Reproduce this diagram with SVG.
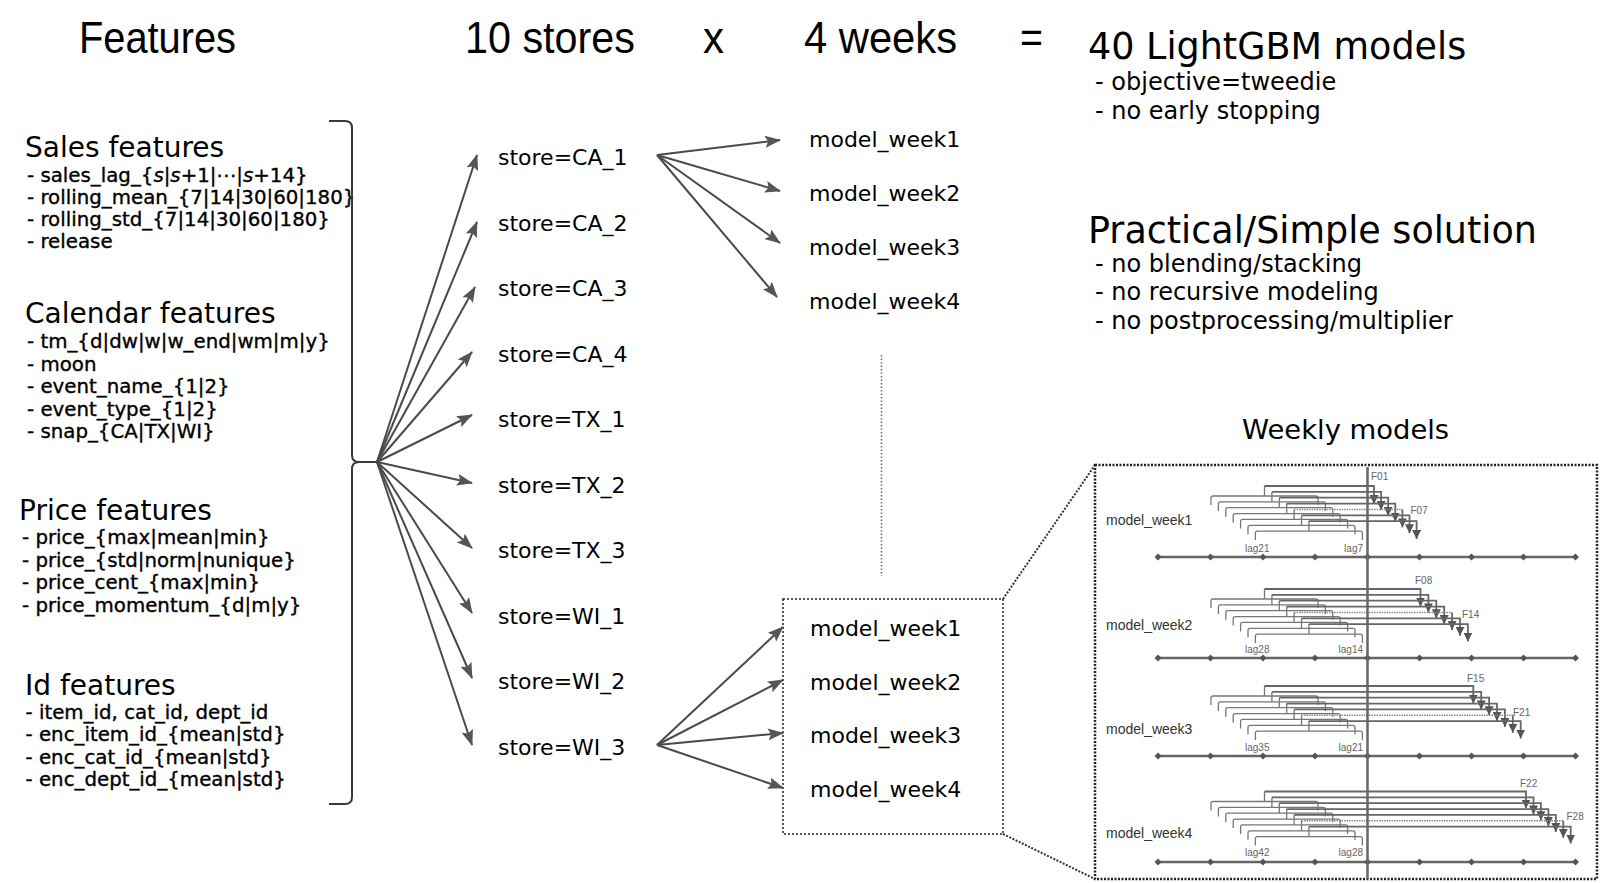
<svg xmlns="http://www.w3.org/2000/svg" width="1600" height="883" viewBox="0 0 1600 883">
<defs>
<style>
.hd{font-family:"Liberation Sans",Arial,sans-serif;font-size:44px;fill:#000}
.t36{font-family:"DejaVu Sans",Verdana,sans-serif;font-size:36.5px;fill:#000}
.sec{font-family:"DejaVu Sans",Verdana,sans-serif;font-size:28px;fill:#000}
.bl{font-family:"DejaVu Sans",Verdana,sans-serif;font-size:19.8px;fill:#000;stroke:#000;stroke-width:0.35}
.rb{font-family:"DejaVu Sans",Verdana,sans-serif;font-size:24px;fill:#000}
.nd{font-family:"DejaVu Sans",Verdana,sans-serif;font-size:22px;fill:#000}
.wm{font-family:"DejaVu Sans",Verdana,sans-serif;font-size:27.4px;fill:#000}
.pl{font-family:"Liberation Sans",Arial,sans-serif;font-size:14px;fill:#333}
.sm{font-family:"Liberation Sans",Arial,sans-serif;font-size:10px;fill:#666}
.arr{fill:none;stroke:#4a4a4a;stroke-width:2;marker-end:url(#ah)}
.brace{fill:none;stroke:#3a3a3a;stroke-width:2}
.dot{fill:none;stroke:#222;stroke-width:1.5;stroke-dasharray:2 2}
.pan{fill:none;stroke:#222;stroke-width:2.5;stroke-dasharray:2 1.5}
.lnk{fill:none;stroke:#333;stroke-width:2;stroke-dasharray:2 1.5}
.vd{fill:none;stroke:#666;stroke-width:1.5;stroke-dasharray:1.5 2}
.axis{fill:none;stroke:#666;stroke-width:2.5;marker-start:url(#dm);marker-mid:url(#dm);marker-end:url(#dm)}
.now{fill:none;stroke:#666;stroke-width:2.5}
.brk{fill:none;stroke:#777;stroke-width:1.3}
.fd{fill:none;stroke:#888;stroke-width:1.5;stroke-dasharray:1.5 1}
.fa{fill:none;stroke:#666;stroke-width:1.8;marker-end:url(#sa)}
</style>
<marker id="ah" viewBox="0 0 16 12" refX="15" refY="6" markerWidth="16" markerHeight="12" markerUnits="userSpaceOnUse" orient="auto"><path d="M0,0 L16,6 L0,12 L3,6 z" fill="#555"/></marker>
<marker id="sa" viewBox="0 0 9 9" refX="9" refY="4.5" markerWidth="9" markerHeight="9" markerUnits="userSpaceOnUse" orient="auto"><path d="M0,0 L9,4.5 L0,9 z" fill="#555"/></marker>
<marker id="dm" viewBox="-4 -4 8 8" refX="0" refY="0" markerWidth="8" markerHeight="8" markerUnits="userSpaceOnUse" orient="0"><path d="M0,-3.5 L3.5,0 L0,3.5 L-3.5,0 z" fill="#555"/></marker>
<g id="brk">
<path class="brk" d="M1211,19V12Q1211,10 1213,10H1316Q1318,10 1318,12V19M1264.5,10V0"/>
<path class="brk" d="M1218.4,24.9V17.9Q1218.4,15.9 1220.4,15.9H1323.4Q1325.4,15.9 1325.4,17.9V24.9M1271.9,15.9V5.9"/>
<path class="brk" d="M1225.8,30.7V23.7Q1225.8,21.7 1227.8,21.7H1330.8Q1332.8,21.7 1332.8,23.7V30.7M1279.3,21.7V11.7"/>
<path class="brk" d="M1233.2,36.6V29.6Q1233.2,27.6 1235.2,27.6H1338.2Q1340.2,27.6 1340.2,29.6V36.6M1286.7,27.6V17.6"/>
<path class="brk" d="M1240.6,42.4V35.4Q1240.6,33.4 1242.6,33.4H1345.6Q1347.6,33.4 1347.6,35.4V42.4M1294.1,33.4V23.4"/>
<path class="brk" d="M1248,48.3V41.3Q1248,39.3 1250,39.3H1353Q1355,39.3 1355,41.3V48.3M1301.5,39.3V29.3"/>
<path class="brk" d="M1255.4,54.1V47.1Q1255.4,45.1 1257.4,45.1H1360.4Q1362.4,45.1 1362.4,47.1V54.1M1308.9,45.1V35.1"/>
</g>
</defs>
<rect width="1600" height="883" fill="#fff"/>

<g id="headers">
<text class="hd" x="79" y="53" textLength="157" lengthAdjust="spacingAndGlyphs">Features</text>
<text class="hd" x="465" y="53" textLength="170" lengthAdjust="spacingAndGlyphs">10 stores</text>
<text class="hd" x="703" y="53" textLength="21" lengthAdjust="spacingAndGlyphs">x</text>
<text class="hd" x="804" y="53" textLength="153" lengthAdjust="spacingAndGlyphs">4 weeks</text>
<text class="hd" x="1020" y="53" textLength="23" lengthAdjust="spacingAndGlyphs">=</text>
</g>

<g id="summary">
<text class="t36" x="1088" y="58.5">40 LightGBM models</text>
<text class="rb" x="1095" y="90">- objective=tweedie</text>
<text class="rb" x="1095" y="119">- no early stopping</text>
<text class="t36" x="1088" y="243">Practical/Simple solution</text>
<text class="rb" x="1095" y="271.5">- no blending/stacking</text>
<text class="rb" x="1095" y="300">- no recursive modeling</text>
<text class="rb" x="1095" y="328.5">- no postprocessing/multiplier</text>
</g>

<g id="sales-features">
<text class="sec" x="25" y="157">Sales features</text>
<text class="bl" x="27" y="182">- sales_lag_{<tspan font-style="italic">s</tspan>|<tspan font-style="italic">s</tspan>+1|⋯|<tspan font-style="italic">s</tspan>+14}</text>
<text class="bl" x="27" y="204">- rolling_mean_{7|14|30|60|180}</text>
<text class="bl" x="27" y="226">- rolling_std_{7|14|30|60|180}</text>
<text class="bl" x="27" y="248">- release</text>
</g>
<g id="calendar-features">
<text class="sec" x="25" y="323">Calendar features</text>
<text class="bl" x="27" y="348">- tm_{d|dw|w|w_end|wm|m|y}</text>
<text class="bl" x="27" y="370.5">- moon</text>
<text class="bl" x="27" y="393">- event_name_{1|2}</text>
<text class="bl" x="27" y="415.5">- event_type_{1|2}</text>
<text class="bl" x="27" y="438">- snap_{CA|TX|WI}</text>
</g>
<g id="price-features">
<text class="sec" x="19" y="520">Price features</text>
<text class="bl" x="22" y="544">- price_{max|mean|min}</text>
<text class="bl" x="22" y="566.5">- price_{std|norm|nunique}</text>
<text class="bl" x="22" y="589">- price_cent_{max|min}</text>
<text class="bl" x="22" y="611.5">- price_momentum_{d|m|y}</text>
</g>
<g id="id-features">
<text class="sec" x="25" y="694.5">Id features</text>
<text class="bl" x="25.5" y="718.5">- item_id, cat_id, dept_id</text>
<text class="bl" x="25.5" y="741">- enc_item_id_{mean|std}</text>
<text class="bl" x="25.5" y="763.5">- enc_cat_id_{mean|std}</text>
<text class="bl" x="25.5" y="786">- enc_dept_id_{mean|std}</text>
</g>
<g id="feature-brace">
<path class="brace" d="M329,121H345Q352,121 352,128V455Q352,462 359,462H377M377,462H359Q352,462 352,469V797Q352,804 345,804H329"/>
</g>

<g id="stores">
<text class="nd" x="498" y="165">store=CA_1</text>
<text class="nd" x="498" y="230.5">store=CA_2</text>
<text class="nd" x="498" y="296">store=CA_3</text>
<text class="nd" x="498" y="361.5">store=CA_4</text>
<text class="nd" x="498" y="427">store=TX_1</text>
<text class="nd" x="498" y="492.5">store=TX_2</text>
<text class="nd" x="498" y="558">store=TX_3</text>
<text class="nd" x="498" y="623.5">store=WI_1</text>
<text class="nd" x="498" y="689">store=WI_2</text>
<text class="nd" x="498" y="754.5">store=WI_3</text>
</g>

<g id="weeks-ca1">
<text class="nd" x="809" y="147">model_week1</text>
<text class="nd" x="809" y="201">model_week2</text>
<text class="nd" x="809" y="255">model_week3</text>
<text class="nd" x="809" y="309">model_week4</text>
</g>

<g id="weeks-wi3">
<rect class="dot" x="783" y="599" width="220" height="235"/>
<text class="nd" x="810" y="636">model_week1</text>
<text class="nd" x="810" y="689.5">model_week2</text>
<text class="nd" x="810" y="743">model_week3</text>
<text class="nd" x="810" y="796.5">model_week4</text>
</g>

<g id="connectors">
<path class="arr" d="M377,462L477,155"/>
<path class="arr" d="M377,462L477,222"/>
<path class="arr" d="M377,462L475,287"/>
<path class="arr" d="M377,462L472,352"/>
<path class="arr" d="M377,462L472,415"/>
<path class="arr" d="M377,462L472,483"/>
<path class="arr" d="M377,462L472,548"/>
<path class="arr" d="M377,462L472,613"/>
<path class="arr" d="M377,462L472,678"/>
<path class="arr" d="M377,462L472,745"/>
<path class="arr" d="M657,155L780,140"/>
<path class="arr" d="M657,155L780,191"/>
<path class="arr" d="M657,155L780,243"/>
<path class="arr" d="M657,155L777,297"/>
<path class="arr" d="M657,745L783,627"/>
<path class="arr" d="M657,745L783,680"/>
<path class="arr" d="M657,745L783,733"/>
<path class="arr" d="M657,745L783,788"/>
<path class="vd" d="M881.5,355V576"/>
<path class="lnk" d="M1003,599L1095,465"/>
<path class="lnk" d="M1003,834L1095,879"/>
</g>

<g id="weekly-models-panel">
<text class="wm" x="1242" y="439">Weekly models</text>
<rect class="pan" x="1095" y="465" width="502" height="414"/>

<g transform="translate(0,486)">
<use href="#brk"/>
<path class="fa" d="M1264.5,0H1374V18"/>
<path class="fa" d="M1271.9,5.9H1381.1V23.9"/>
<path class="fa" d="M1279.3,11.7H1388.2V29.7"/>
<path class="fa" d="M1286.7,17.6H1395.3V35.6"/>
<path class="fd" d="M1294.1,23.4H1402.4"/><path class="fa" d="M1402.4,23.4V41.4"/>
<path class="fa" d="M1301.5,29.3H1409.5V47.3"/>
<path class="fa" d="M1308.9,35.1H1416.6V53.1"/>
</g>
<g transform="translate(0,589)">
<use href="#brk"/>
<path class="fa" d="M1264.5,0H1420.5V17.5"/>
<path class="fa" d="M1271.9,5.9H1428.4V23.4"/>
<path class="fa" d="M1279.3,11.7H1436.3V29.2"/>
<path class="fa" d="M1286.7,17.6H1444.2V35.1"/>
<path class="fd" d="M1294.1,23.4H1452.1"/><path class="fa" d="M1452.1,23.4V40.9"/>
<path class="fa" d="M1301.5,29.3H1460V46.8"/>
<path class="fa" d="M1308.9,35.1H1467.9V52.6"/>
</g>
<g transform="translate(0,686)">
<use href="#brk"/>
<path class="fa" d="M1264.5,0H1473.3V17.5"/>
<path class="fa" d="M1271.9,5.9H1481.2V23.4"/>
<path class="fa" d="M1279.3,11.7H1489.1V29.2"/>
<path class="fa" d="M1286.7,17.6H1497V35.1"/>
<path class="fa" d="M1294.1,23.4H1504.9V40.9"/>
<path class="fd" d="M1301.5,29.3H1512.8"/><path class="fa" d="M1512.8,29.3V46.8"/>
<path class="fa" d="M1308.9,35.1H1520.7V52.6"/>
</g>
<g transform="translate(0,791.5)">
<use href="#brk"/>
<path class="fa" d="M1264.5,0H1526V17"/>
<path class="fa" d="M1271.9,5.9H1533.5V22.9"/>
<path class="fa" d="M1279.3,11.7H1540.9V28.7"/>
<path class="fa" d="M1286.7,17.6H1548.4V34.6"/>
<path class="fa" d="M1294.1,23.4H1555.8V40.4"/>
<path class="fd" d="M1301.5,29.3H1563.3"/><path class="fa" d="M1563.3,29.3V46.3"/>
<path class="fa" d="M1308.9,35.1H1570.7V52.1"/>
</g>

<path class="axis" d="M1158,557L1210.5,557L1263,557L1315,557L1367.5,557L1419.5,557L1471.5,557L1523.5,557L1575.5,557"/>
<path class="axis" d="M1158,658L1210.5,658L1263,658L1315,658L1367.5,658L1419.5,658L1471.5,658L1523.5,658L1575.5,658"/>
<path class="axis" d="M1158,756L1210.5,756L1263,756L1315,756L1367.5,756L1419.5,756L1471.5,756L1523.5,756L1575.5,756"/>
<path class="axis" d="M1158,862L1210.5,862L1263,862L1315,862L1367.5,862L1419.5,862L1471.5,862L1523.5,862L1575.5,862"/>
<path class="now" d="M1367.5,467V879"/>

<text class="pl" x="1106" y="525">model_week1</text>
<text class="pl" x="1106" y="630">model_week2</text>
<text class="pl" x="1106" y="734">model_week3</text>
<text class="pl" x="1106" y="838">model_week4</text>

<text class="sm" x="1371" y="480">F01</text>
<text class="sm" x="1410.5" y="514">F07</text>
<text class="sm" x="1415" y="584">F08</text>
<text class="sm" x="1462" y="618">F14</text>
<text class="sm" x="1467" y="681.5">F15</text>
<text class="sm" x="1513" y="715.5">F21</text>
<text class="sm" x="1520" y="786.5">F22</text>
<text class="sm" x="1566.5" y="820">F28</text>

<text class="sm" x="1245" y="552">lag21</text>
<text class="sm" x="1363" y="552" text-anchor="end">lag7</text>
<text class="sm" x="1245" y="653">lag28</text>
<text class="sm" x="1363" y="653" text-anchor="end">lag14</text>
<text class="sm" x="1245" y="750.5">lag35</text>
<text class="sm" x="1363" y="750.5" text-anchor="end">lag21</text>
<text class="sm" x="1245" y="856">lag42</text>
<text class="sm" x="1363" y="856" text-anchor="end">lag28</text>
</g>
</svg>
